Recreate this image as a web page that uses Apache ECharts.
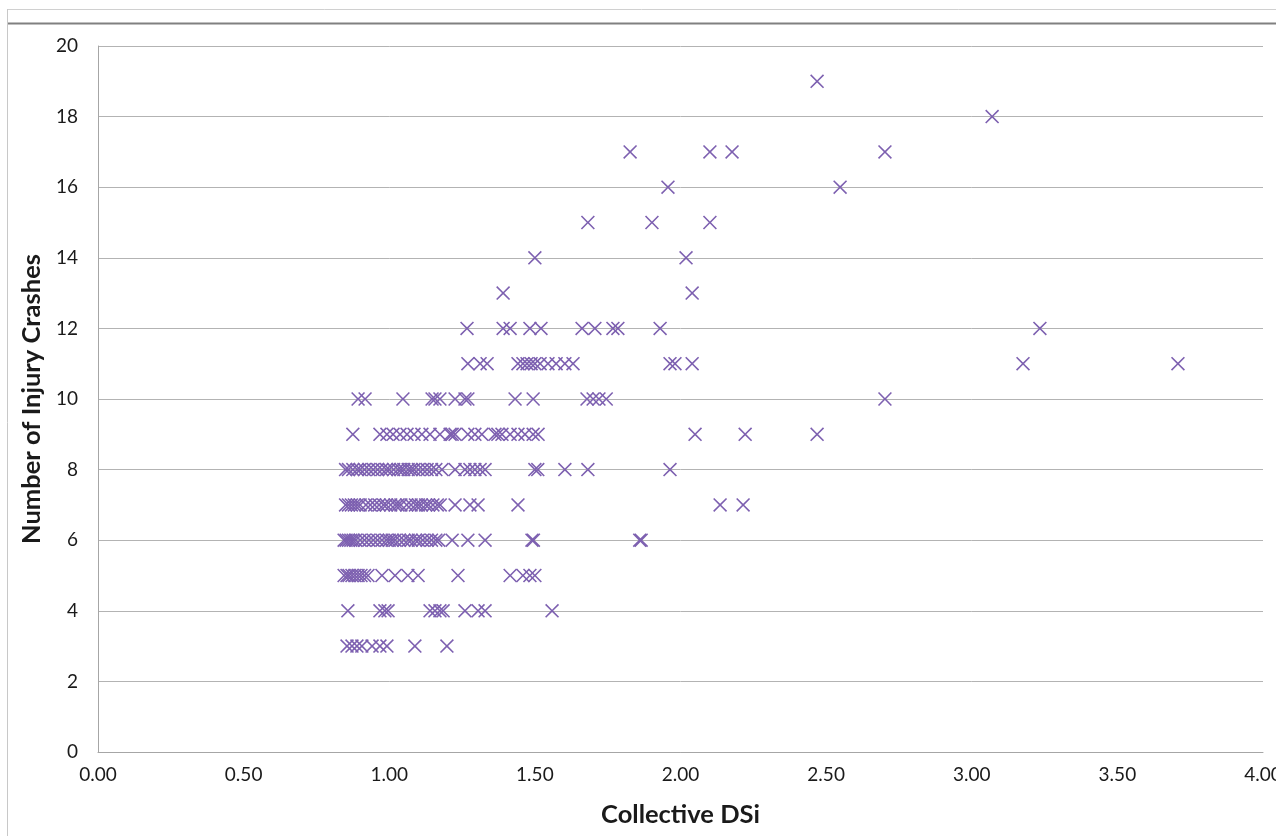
<!DOCTYPE html>
<html>
<head>
<meta charset="utf-8">
<script src="https://cdn.jsdelivr.net/npm/echarts@6/dist/echarts.min.js"></script>
<style>
html,body{margin:0;padding:0;background:#fff;}
#chart{width:1276px;height:836px;}
</style>
</head>
<body>
<div id="chart"></div>
<script>
// Number of injury crashes (y) for each group of Collective DSi values (x)
const crashCounts = [3, 4, 5, 6, 7, 8, 9, 10, 11, 12, 13, 14, 15, 16, 17, 18, 19];
const dsi_3 = [0.855, 0.872, 0.889, 0.906, 0.941, 0.968, 0.992, 1.088, 1.198];
const dsi_4 = [0.858, 0.968, 0.985, 0.996, 1.140, 1.157, 1.174, 1.185, 1.260, 1.305, 1.329, 1.559];
const dsi_5 = [0.845, 0.855, 0.862, 0.872, 0.882, 0.893, 0.903, 0.915, 0.927, 0.975, 1.020, 1.064, 1.099, 1.236, 1.415, 1.459, 1.483, 1.500];
const dsi_6 = [0.845, 0.852, 0.860, 0.868, 0.876, 0.885, 0.900, 0.915, 0.930, 0.945, 0.960, 0.975, 0.990, 1.000, 1.010, 1.020, 1.035, 1.050, 1.065, 1.075, 1.090, 1.100, 1.115, 1.130, 1.145, 1.160, 1.170, 1.216, 1.270, 1.329, 1.490, 1.495, 1.860, 1.865];
const dsi_7 = [0.850, 0.860, 0.870, 0.880, 0.890, 0.900, 0.920, 0.935, 0.950, 0.965, 0.980, 0.990, 1.005, 1.020, 1.030, 1.040, 1.060, 1.075, 1.090, 1.100, 1.110, 1.125, 1.135, 1.150, 1.165, 1.175, 1.226, 1.277, 1.305, 1.442, 2.136, 2.215];
const dsi_8 = [0.850, 0.860, 0.875, 0.890, 0.900, 0.915, 0.930, 0.945, 0.960, 0.975, 0.990, 1.000, 1.015, 1.030, 1.040, 1.050, 1.065, 1.075, 1.085, 1.100, 1.115, 1.130, 1.145, 1.160, 1.181, 1.226, 1.260, 1.277, 1.294, 1.312, 1.329, 1.500, 1.510, 1.603, 1.682, 1.964];
const dsi_9 = [0.875, 0.968, 0.992, 1.013, 1.037, 1.061, 1.085, 1.112, 1.140, 1.174, 1.209, 1.216, 1.226, 1.270, 1.294, 1.318, 1.363, 1.373, 1.387, 1.415, 1.442, 1.466, 1.494, 1.511, 2.050, 2.222, 2.469];
const dsi_10 = [0.893, 0.917, 1.047, 1.147, 1.157, 1.174, 1.226, 1.260, 1.270, 1.432, 1.494, 1.679, 1.700, 1.720, 1.745, 2.702];
const dsi_11 = [1.270, 1.312, 1.336, 1.442, 1.459, 1.473, 1.487, 1.500, 1.518, 1.545, 1.573, 1.603, 1.631, 1.964, 1.981, 2.040, 3.176, 3.708];
const dsi_12 = [1.267, 1.391, 1.415, 1.483, 1.521, 1.662, 1.706, 1.768, 1.785, 1.930, 3.234];
const dsi_13 = [1.391, 2.040];
const dsi_14 = [1.500, 2.019];
const dsi_15 = [1.682, 1.902, 2.101];
const dsi_16 = [1.957, 2.548];
const dsi_17 = [1.827, 2.101, 2.177, 2.702];
const dsi_18 = [3.070];
const dsi_19 = [2.469];
const dsiGroups = [dsi_3, dsi_4, dsi_5, dsi_6, dsi_7, dsi_8, dsi_9, dsi_10, dsi_11, dsi_12, dsi_13, dsi_14, dsi_15, dsi_16, dsi_17, dsi_18, dsi_19];

const points = [];
crashCounts.forEach((c, i) => dsiGroups[i].forEach(x => points.push([x, c])));

const FONT = 'Lato';
const chart = echarts.init(document.getElementById('chart'), null, {renderer: 'canvas'});
chart.setOption({
  animation: false,
  backgroundColor: '#ffffff',
  grid: {left: 98, right: 13, top: 46, bottom: 84, containLabel: false, outerBoundsMode: 'none'},
  xAxis: {
    type: 'value', min: 0, max: 4, interval: 0.5,
    name: 'Collective DSi', nameLocation: 'middle', nameGap: 50,
    nameTextStyle: {fontFamily: FONT, fontWeight: 'bold', fontSize: 25.5, color: '#1a1a1a'},
    axisLine: {show: true, lineStyle: {color: '#a6a6a6', width: 1}},
    axisTick: {show: false},
    splitLine: {show: false},
    axisLabel: {fontFamily: FONT, fontSize: 19, color: '#1a1a1a', margin: 13,
      formatter: v => v.toFixed(2)}
  },
  yAxis: {
    type: 'value', min: 0, max: 20, interval: 2,
    name: 'Number of Injury Crashes', nameLocation: 'middle', nameGap: 47,
    nameTextStyle: {fontFamily: FONT, fontWeight: 'bold', fontSize: 25.5, color: '#1a1a1a'},
    axisLine: {show: true, lineStyle: {color: '#a6a6a6', width: 1}},
    axisTick: {show: false},
    splitLine: {show: true, lineStyle: {color: '#b3b3b3', width: 1}},
    axisLabel: {fontFamily: FONT, fontSize: 19, color: '#1a1a1a', margin: 20}
  },
  graphic: [
    {type: 'line', shape: {x1: 7, y1: 9.5, x2: 1276, y2: 9.5}, style: {stroke: '#d0d0d0', lineWidth: 1}},
    {type: 'line', shape: {x1: 7, y1: 23.5, x2: 1276, y2: 23.5}, style: {stroke: '#808080', lineWidth: 2}},
    {type: 'line', shape: {x1: 7.5, y1: 9, x2: 7.5, y2: 836}, style: {stroke: '#c8c8c8', lineWidth: 1}}
  ],
  series: [{
    type: 'scatter',
    data: points,
    symbol: 'path://M0,8 L8,0 L50,42 L92,0 L100,8 L58,50 L100,92 L92,100 L50,58 L8,100 L0,92 L42,50 Z',
    symbolSize: 14,
    itemStyle: {color: '#7D60B0', opacity: 1}
  }]
});
</script>
</body>
</html>
